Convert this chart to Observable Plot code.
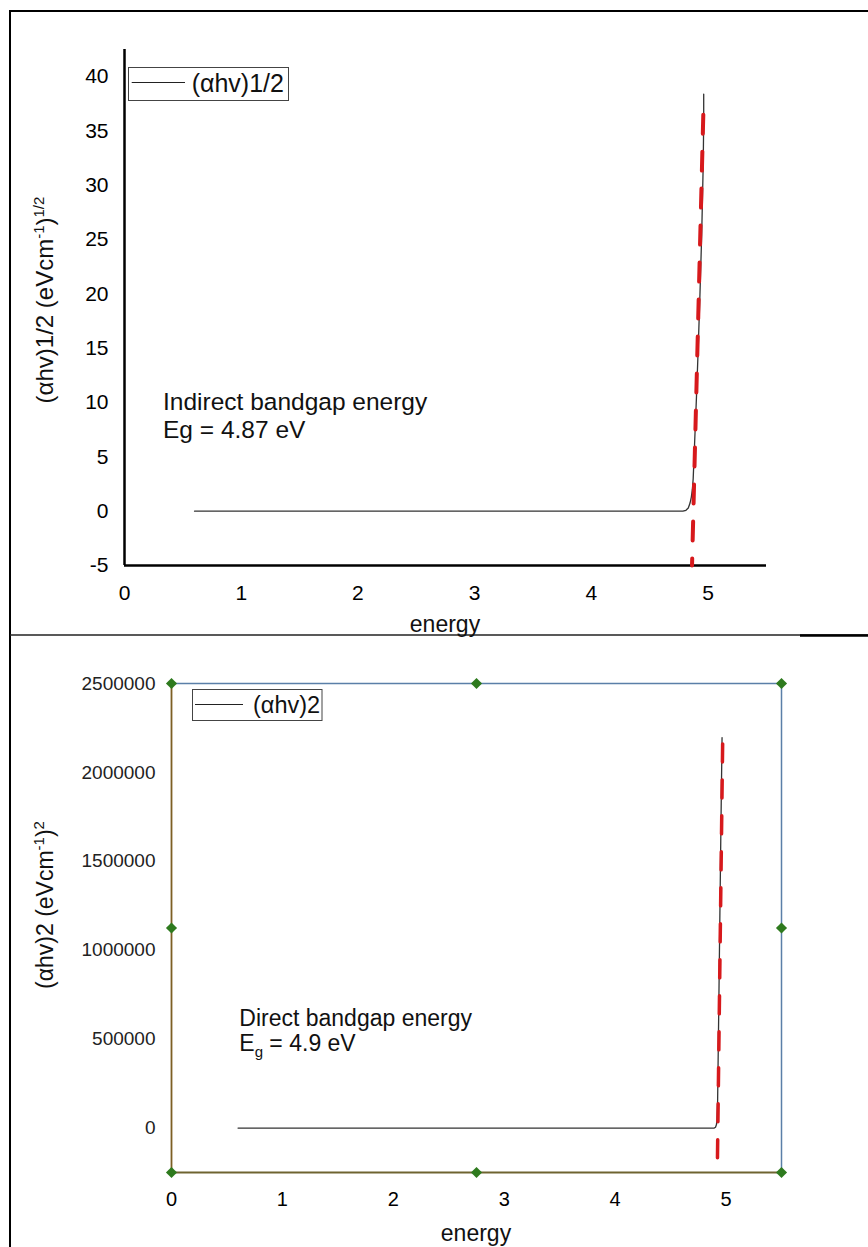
<!DOCTYPE html>
<html><head><meta charset="utf-8">
<script src="https://cdn.jsdelivr.net/npm/d3@7"></script>
<script src="https://cdn.jsdelivr.net/npm/@observablehq/plot@0.6"></script>
<style>
html,body{margin:0;padding:0;background:#fff;}
#page{position:relative;width:868px;height:1247px;overflow:hidden;background:#fff;font-family:'Liberation Sans',Arial,sans-serif;}
#page > svg{position:absolute;left:0;}
</style></head>
<body><div id="page"></div>
<script>
// ---------- data ----------
const energyTicks = [0, 1, 2, 3, 4, 5];
const energyDomain = [0, 5.5];

// indirect (top) panel
const indirectTicks = [-5, 0, 5, 10, 15, 20, 25, 30, 35, 40];
const indirectDomain = [-5, 42.5];
const indirectEnergy = [0.6, 2.0, 4.0, 4.784, 4.81, 4.83, 4.845, 4.856, 4.865, 4.872, 4.885, 4.9, 4.915, 4.93, 4.945, 4.958, 4.962, 4.962];
const indirectValue  = [0,   0,   0,   0,     0.08, 0.3,  0.75,  1.3,   2.0,   3.0,   6.5,   10.5, 15,    20,   25.5,  32,    36,    38.4];
const indirectFitEnergy = [4.862, 4.962];
const indirectFitValue  = [-5, 38];

// direct (bottom) panel
const directTicks = [0, 500000, 1000000, 1500000, 2000000, 2500000];
const directDomain = [-250000, 2500000];
const directEnergy = [0.6, 2.0, 4.0, 4.894, 4.905, 4.913, 4.918, 4.924, 4.934, 4.9435, 4.953, 4.964];
const directValue  = [0,   0,   0,   0,     5000,  18000, 42000, 154000, 650000, 1150000, 1650000, 2196000];
const directFitEnergy = [4.9227, 4.970];
const directFitValue  = [-167600, 2194600];

// ---------- tables ----------
const zip = (xs, ys) => xs.map((e, i) => ({energy: e, value: ys[i]}));
const indirect = zip(indirectEnergy, indirectValue);
const indirectFit = zip(indirectFitEnergy, indirectFitValue);
const direct = zip(directEnergy, directValue);
const directFit = zip(directFitEnergy, directFitValue);

const FONT = "'Liberation Sans', Arial, sans-serif";
const page = document.getElementById("page");
const plain = d => String(d);

// ---------- top chart ----------
const topChart = Plot.plot({
  width: 868, height: 636,
  marginLeft: 124, marginRight: 102, marginTop: 49, marginBottom: 71,
  style: {fontFamily: FONT, fontSize: "21px", color: "#000", background: "transparent"},
  x: {domain: energyDomain},
  y: {domain: indirectDomain},
  marks: [
    Plot.axisX(energyTicks, {tickSize: 0, tickPadding: 20, fontSize: 21, label: null, tickFormat: plain}),
    Plot.axisY(indirectTicks, {tickSize: 0, tickPadding: 16, fontSize: 21, label: null, tickFormat: plain}),
    Plot.ruleX([energyDomain[0]], {stroke: "#000", strokeWidth: 2.5}),
    Plot.ruleY([indirectDomain[0]], {stroke: "#000", strokeWidth: 2.5}),
    Plot.line(indirect, {x: "energy", y: "value", stroke: "#333", strokeWidth: 1.3}),
    Plot.line(indirectFit, {x: "energy", y: "value", stroke: "#d7191c", strokeWidth: 4, strokeDasharray: "19,18", strokeDashoffset: 12})
  ]
});
topChart.style.top = "0px";
page.appendChild(topChart);

// ---------- bottom chart ----------
const xMid = (energyDomain[0] + energyDomain[1]) / 2;
const yMid = (directDomain[0] + directDomain[1]) / 2;
const handles = [];
for (const hx of [energyDomain[0], xMid, energyDomain[1]])
  for (const hy of [directDomain[0], yMid, directDomain[1]])
    if (!(hx === xMid && hy === yMid)) handles.push({energy: hx, value: hy});

const bottomChart = Plot.plot({
  width: 868, height: 611,
  marginLeft: 171, marginRight: 87, marginTop: 47, marginBottom: 75,
  style: {fontFamily: FONT, fontSize: "20px", color: "#000", background: "transparent"},
  x: {domain: energyDomain},
  y: {domain: directDomain},
  marks: [
    Plot.axisX(energyTicks, {tickSize: 0, tickPadding: 19, fontSize: 20, label: null, tickFormat: plain}),
    Plot.axisY(directTicks, {tickSize: 0, tickPadding: 16, fontSize: 19, fill: "#222", label: null, tickFormat: plain}),
    Plot.ruleY([directDomain[1]], {stroke: "#5a7fa8", strokeWidth: 1.5}),
    Plot.ruleX([energyDomain[1]], {stroke: "#5a7fa8", strokeWidth: 1.5}),
    Plot.ruleX([energyDomain[0]], {stroke: "#7d5f24", strokeWidth: 1.8}),
    Plot.ruleY([directDomain[0]], {stroke: "#6f6430", strokeWidth: 2}),
    Plot.line(direct, {x: "energy", y: "value", stroke: "#333", strokeWidth: 1.3}),
    Plot.line(directFit, {x: "energy", y: "value", stroke: "#d7191c", strokeWidth: 3.5, strokeDasharray: "18,18"}),
    Plot.dot(handles, {x: "energy", y: "value", symbol: "diamond2", r: 5, fill: "#2e7a1e", stroke: "none"})
  ]
});
bottomChart.style.top = "636px";
page.appendChild(bottomChart);

// ---------- overlay: frames, legends, titles, notes ----------
const ns = "http://www.w3.org/2000/svg";
const ov = document.createElementNS(ns, "svg");
ov.setAttribute("width", 868);
ov.setAttribute("height", 1247);
ov.style.top = "0px";
ov.style.fontFamily = FONT;
ov.innerHTML = `
  <line x1="10" y1="11" x2="868" y2="11" stroke="#000" stroke-width="2"/>
  <line x1="10" y1="10" x2="10" y2="1247" stroke="#000" stroke-width="2"/>
  <line x1="10" y1="635" x2="868" y2="635" stroke="#222" stroke-width="1.3"/>
  <line x1="800" y1="635.5" x2="868" y2="635.5" stroke="#000" stroke-width="2.5"/>

  <rect x="128.5" y="67.5" width="160" height="33" fill="#fff" stroke="#444" stroke-width="1"/>
  <line x1="131.7" y1="82.5" x2="185" y2="82.5" stroke="#222" stroke-width="1.2"/>
  <text x="191.7" y="91.5" font-size="25" fill="#111">(αhv)1/2</text>

  <text transform="translate(53,300) rotate(-90)" text-anchor="middle" font-size="24" fill="#111">(αhv)1/2 (eVcm<tspan dy="-9" font-size="15">-1</tspan><tspan dy="9">)</tspan><tspan dy="-9" font-size="15">1/2</tspan></text>

  <text x="163" y="409.5" font-size="24.5" fill="#111">Indirect bandgap energy</text>
  <text x="163" y="438" font-size="24.5" fill="#111">Eg = 4.87 eV</text>

  <text x="445" y="632" text-anchor="middle" font-size="23" fill="#111">energy</text>

  <rect x="192.5" y="689.5" width="129.5" height="31" fill="#fff" stroke="#444" stroke-width="1"/>
  <line x1="195" y1="704.5" x2="243" y2="704.5" stroke="#222" stroke-width="1.2"/>
  <text x="253" y="712.5" font-size="23.5" fill="#111">(αhv)2</text>

  <text transform="translate(53,905) rotate(-90)" text-anchor="middle" font-size="23" fill="#111">(αhv)2 (eVcm<tspan dy="-9" font-size="15">-1</tspan><tspan dy="9">)</tspan><tspan dy="-9" font-size="15">2</tspan></text>

  <text x="239.3" y="1025.5" font-size="23" fill="#111">Direct bandgap energy</text>
  <text x="239.3" y="1051" font-size="23" fill="#111">E<tspan dy="6" font-size="15">g</tspan><tspan dy="-6"> = 4.9 eV</tspan></text>

  <text x="476" y="1241" text-anchor="middle" font-size="23" fill="#111">energy</text>
`;
page.appendChild(ov);
</script>
</body></html>
